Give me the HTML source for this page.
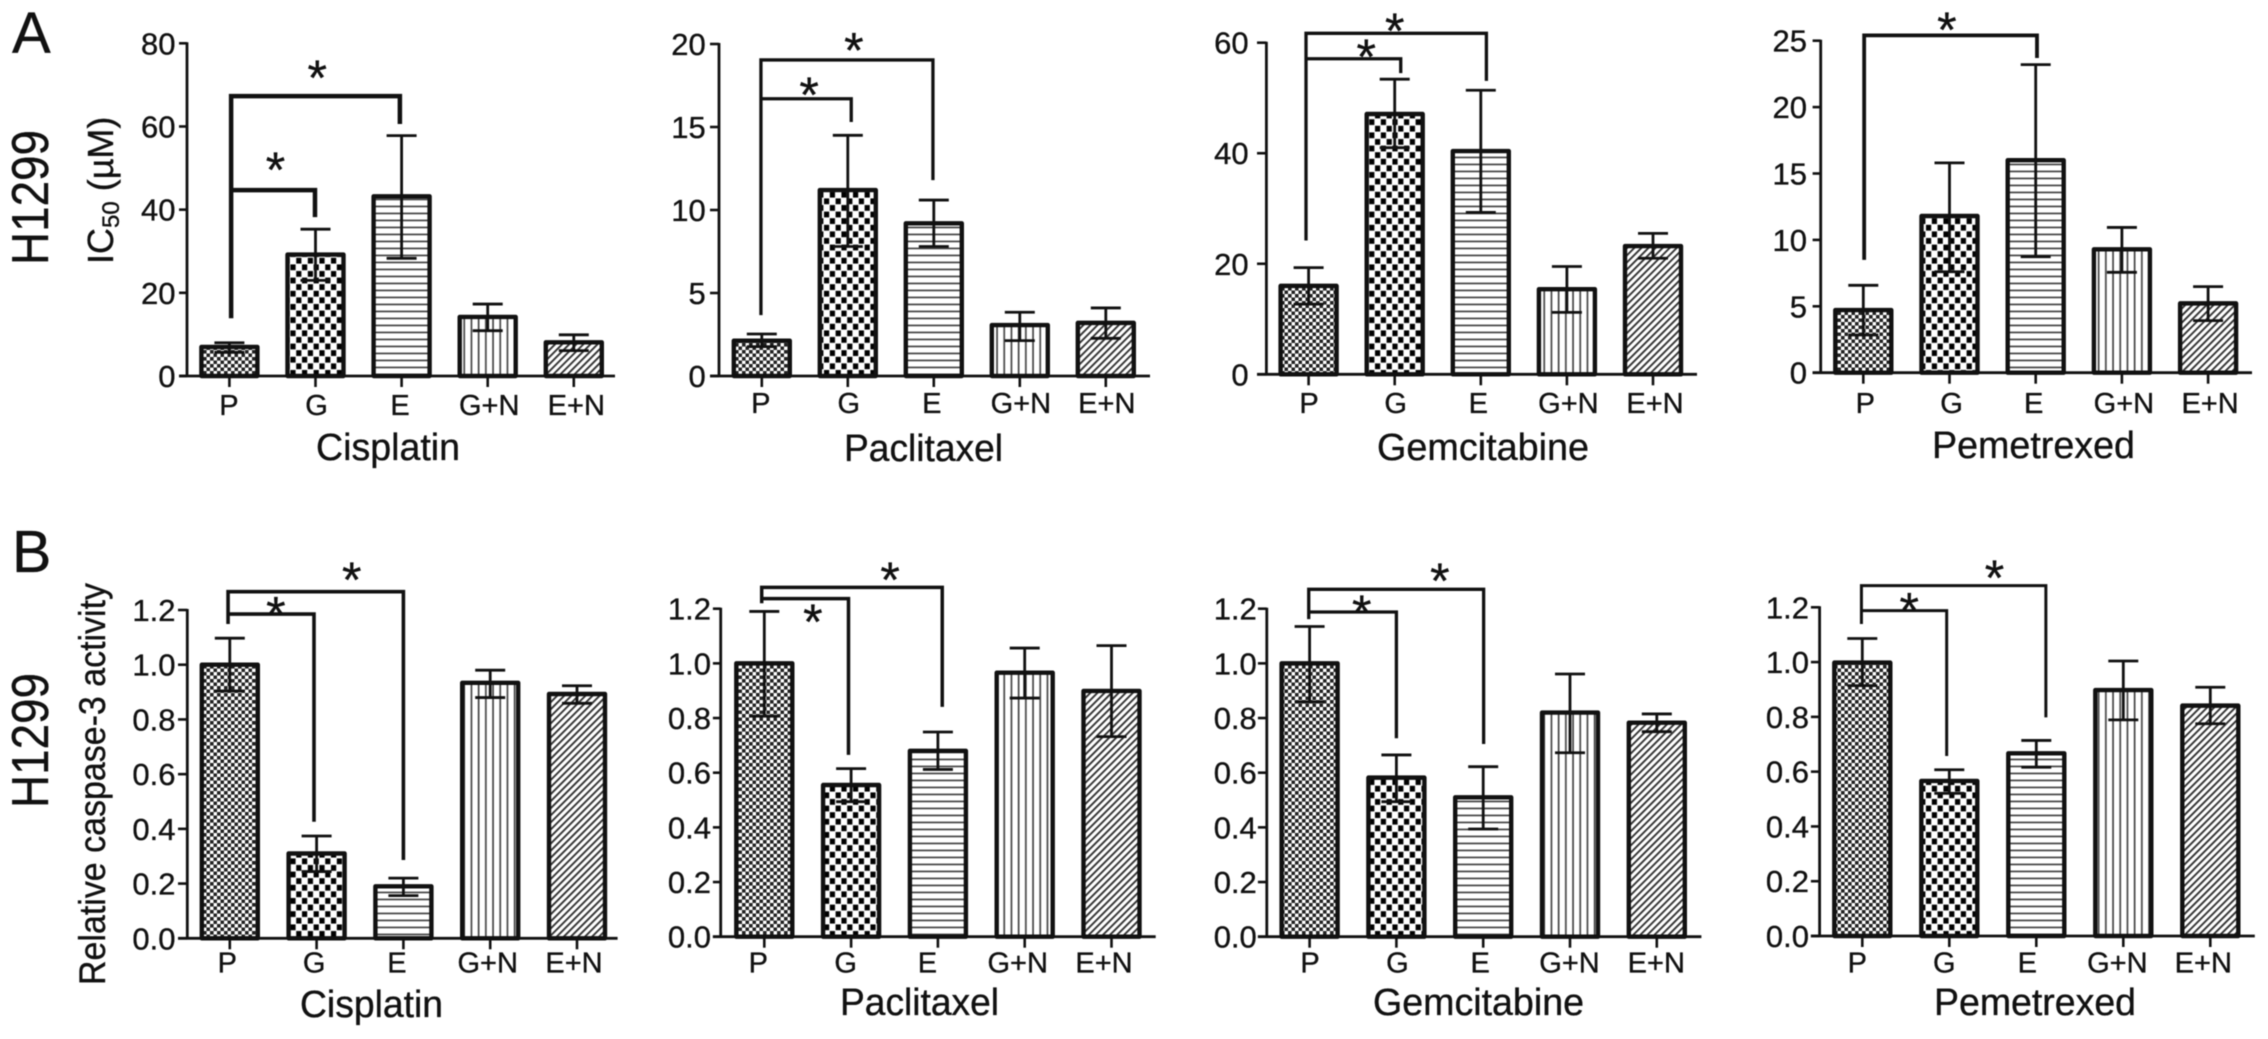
<!DOCTYPE html>
<html lang="en">
<head>
<meta charset="utf-8">
<title>H1299 IC50 and caspase-3 activity</title>
<style>
html,body{margin:0;padding:0;background:#fff;}
svg{display:block;filter:blur(0.45px);}
text{font-family:"Liberation Sans",sans-serif;fill:#111;stroke:#111;stroke-width:0.35px;}
</style>
</head>
<body>
<svg id="figure" xmlns="http://www.w3.org/2000/svg" width="2268" height="1039" viewBox="0 0 2268 1039">
  <defs>
    <pattern id="hatch-p" patternUnits="userSpaceOnUse" width="7" height="7">
      <rect width="7" height="7" fill="#fff"/>
      <rect x="0" y="0" width="3.6" height="3.6" fill="#222"/>
      <rect x="3.5" y="3.5" width="3.6" height="3.6" fill="#222"/>
    </pattern>
    <pattern id="hatch-g" patternUnits="userSpaceOnUse" width="11.6" height="13.2">
      <rect width="11.6" height="13.2" fill="#fff"/>
      <rect x="0.4" y="0.4" width="5.2" height="5.8" fill="#000"/>
      <rect x="6.2" y="7" width="5.2" height="5.8" fill="#000"/>
    </pattern>
    <pattern id="hatch-e" patternUnits="userSpaceOnUse" width="7" height="7">
      <rect width="7" height="7" fill="#fff"/>
      <rect x="0" y="2.6" width="7" height="1.7" fill="#444"/>
    </pattern>
    <pattern id="hatch-gn" patternUnits="userSpaceOnUse" width="7.2" height="7">
      <rect width="7.2" height="7" fill="#fff"/>
      <rect x="2.6" y="0" width="1.7" height="7" fill="#444"/>
    </pattern>
    <pattern id="hatch-en" patternUnits="userSpaceOnUse" width="5" height="5" patternTransform="rotate(45)">
      <rect width="5" height="5" fill="#fff"/>
      <rect x="0" y="0" width="1.9" height="5" fill="#333"/>
    </pattern>
  </defs>

  <text x="12" y="53" font-size="58">A</text>
  <text x="12" y="572" font-size="59">B</text>
  <text transform="translate(48,265) rotate(-90)" font-size="52" textLength="135" lengthAdjust="spacingAndGlyphs">H1299</text>
  <text transform="translate(48,808) rotate(-90)" font-size="52" textLength="135" lengthAdjust="spacingAndGlyphs">H1299</text>
  <text transform="translate(113,264) rotate(-90)" font-size="36">IC<tspan font-size="24" dy="6">50</tspan><tspan dy="-6"> (µM)</tspan></text>
  <text transform="translate(105,985) rotate(-90)" font-size="37" textLength="402" lengthAdjust="spacingAndGlyphs">Relative caspase-3 activity</text>

  <text x="316" y="460" font-size="38" textLength="144" lengthAdjust="spacingAndGlyphs">Cisplatin</text>
  <text x="844" y="461" font-size="38" textLength="159" lengthAdjust="spacingAndGlyphs">Paclitaxel</text>
  <text x="1377" y="460" font-size="38" textLength="212" lengthAdjust="spacingAndGlyphs">Gemcitabine</text>
  <text x="1932" y="458" font-size="38" textLength="203" lengthAdjust="spacingAndGlyphs">Pemetrexed</text>
  <text x="300" y="1017" font-size="38" textLength="143" lengthAdjust="spacingAndGlyphs">Cisplatin</text>
  <text x="840" y="1015" font-size="38" textLength="159" lengthAdjust="spacingAndGlyphs">Paclitaxel</text>
  <text x="1373" y="1015" font-size="38" textLength="211" lengthAdjust="spacingAndGlyphs">Gemcitabine</text>
  <text x="1934" y="1015" font-size="38" textLength="202" lengthAdjust="spacingAndGlyphs">Pemetrexed</text>
</svg>
<script>
const categories = ['P', 'G', 'E', 'G+N', 'E+N'];
const drugNames = ['cisplatin', 'paclitaxel', 'gemcitabine', 'pemetrexed'];
const fillIds = ['hatch-p', 'hatch-g', 'hatch-e', 'hatch-gn', 'hatch-en'];

const ticksCisplatinA = [0, 20, 40, 60, 80];
const ticksPaclitaxelA = [0, 5, 10, 15, 20];
const ticksGemcitabineA = [0, 20, 40, 60];
const ticksPemetrexedA = [0, 5, 10, 15, 20, 25];
const ticksCaspase = ['0.0', '0.2', '0.4', '0.6', '0.8', '1.0', '1.2'];

const meanCisplatinA = [7, 29.2, 43.2, 14.2, 8.1];
const upperCisplatinA = [8, 35.3, 57.8, 17.3, 9.9];
const lowerCisplatinA = [5.7, 23, 28.3, 10.9, 6.1];
const meanPaclitaxelA = [2.13, 11.2, 9.2, 3.07, 3.2];
const upperPaclitaxelA = [2.53, 14.5, 10.6, 3.84, 4.1];
const lowerPaclitaxelA = [1.77, 7.8, 7.8, 2.13, 2.27];
const meanGemcitabineA = [16, 47.1, 40.4, 15.4, 23.2];
const upperGemcitabineA = [19.3, 53.4, 51.4, 19.5, 25.5];
const lowerGemcitabineA = [12.7, 41, 29.3, 11.2, 21];
const meanPemetrexedA = [4.72, 11.8, 16, 9.29, 5.22];
const upperPemetrexedA = [6.58, 15.8, 23.2, 10.94, 6.48];
const lowerPemetrexedA = [2.84, 7.6, 8.73, 7.56, 3.92];

const meanCisplatinB = [1.0, 0.31, 0.19, 0.934, 0.893];
const upperCisplatinB = [1.097, 0.374, 0.22, 0.98, 0.923];
const lowerCisplatinB = [0.904, 0.244, 0.156, 0.88, 0.859];
const meanPaclitaxelB = [1.0, 0.555, 0.68, 0.966, 0.899];
const upperPaclitaxelB = [1.19, 0.615, 0.749, 1.056, 1.065];
const lowerPaclitaxelB = [0.807, 0.494, 0.612, 0.873, 0.732];
const meanGemcitabineB = [1.0, 0.582, 0.51, 0.82, 0.783];
const upperGemcitabineB = [1.135, 0.665, 0.622, 0.961, 0.815];
const lowerGemcitabineB = [0.859, 0.494, 0.394, 0.673, 0.75];
const meanPemetrexedB = [0.998, 0.566, 0.667, 0.898, 0.841];
const upperPemetrexedB = [1.086, 0.607, 0.714, 1.004, 0.908];
const lowerPemetrexedB = [0.914, 0.521, 0.616, 0.789, 0.775];

/* significance brackets: [from category, to category, bar height, left leg end, right leg end] */
const sigCisplatinA = [[0.02, 1.98, 67.3, 13.9, 60.6], [0.02, 0.994, 44.7, 44.7, 38.2]];
const sigPaclitaxelA = [[-0.01, 1.99, 19.04, 3.67, 11.8], [-0.01, 1.04, 16.7, 16.7, 15.3]];
const sigGemcitabineA = [[-0.03, 2.065, 61.7, 24.2, 53.1], [-0.03, 1.07, 57.1, 57.1, 54.5]];
const sigPemetrexedA = [[0.01, 2.015, 25.4, 8.5, 23.7]];
const sigCisplatinB = [[-0.02, 2.0, 1.267, 1.149, 0.286], [-0.02, 0.97, 1.185, 1.185, 0.426]];
const sigPaclitaxelB = [[-0.03, 2.05, 1.278, 1.22, 0.841], [-0.03, 0.97, 1.237, 1.237, 0.665]];
const sigGemcitabineB = [[-0.01, 2.005, 1.271, 1.162, 0.705], [-0.01, 1.0, 1.188, 1.188, 0.726]];
const sigPemetrexedB = [[-0.01, 2.11, 1.279, 1.139, 0.798], [-0.01, 0.97, 1.188, 1.188, 0.657]];

/* asterisks: [category position, value height] */
const starsCisplatinA = [[1.02, 73.6], [0.535, 51.4]];
const starsPaclitaxelA = [[1.07, 20.1], [0.55, 17.4]];
const starsGemcitabineA = [[1.0, 63.6], [0.67, 58.9]];
const starsPemetrexedA = [[0.97, 26.4]];
const starsCisplatinB = [[1.405, 1.339], [0.53, 1.212]];
const starsPaclitaxelB = [[1.45, 1.335], [0.56, 1.18]];
const starsGemcitabineB = [[1.5, 1.331], [0.6, 1.214]];
const starsPemetrexedB = [[1.52, 1.336], [0.54, 1.217]];

const panels = [
  {id:'a-cisplatin', ticks:ticksCisplatinA, mean:meanCisplatinA, upper:upperCisplatinA, lower:lowerCisplatinA, sig:sigCisplatinA, stars:starsCisplatinA, ymax:80, axisX:187, base:376, top:43.3, c0:229.4, step:86.1, left:179, right:615, lw:[-0.5,1,-1.5,1.5,2.5], labY:415, tickR:175.5, brW:4.5},
  {id:'a-paclitaxel', ticks:ticksPaclitaxelA, mean:meanPaclitaxelA, upper:upperPaclitaxelA, lower:lowerPaclitaxelA, sig:sigPaclitaxelA, stars:starsPaclitaxelA, ymax:20, axisX:719, base:376, top:44, c0:761.8, step:86, left:710, right:1150, lw:[-1,1,-2,1,1], labY:413, tickR:705.7, brW:3.3},
  {id:'a-gemcitabine', ticks:ticksGemcitabineA, mean:meanGemcitabineA, upper:upperGemcitabineA, lower:lowerGemcitabineA, sig:sigGemcitabineA, stars:starsGemcitabineA, ymax:60, axisX:1266.4, base:374.3, top:42.7, c0:1308.6, step:86.1, left:1257, right:1697, lw:[0.5,1,-2.5,1.5,2], labY:413, tickR:1248.6, brW:3.3},
  {id:'a-pemetrexed', ticks:ticksPemetrexedA, mean:meanPemetrexedA, upper:upperPemetrexedA, lower:lowerPemetrexedA, sig:sigPemetrexedA, stars:starsPemetrexedA, ymax:25, axisX:1820.7, base:372.7, top:40.7, c0:1863.3, step:86.2, left:1812.6, right:2252, lw:[2,2,-2,2,2], labY:413, tickR:1807, brW:3.8},
  {id:'b-cisplatin', ticks:ticksCaspase, mean:meanCisplatinB, upper:upperCisplatinB, lower:lowerCisplatinB, sig:sigCisplatinB, stars:starsCisplatinB, ymax:1.2, axisX:187.3, base:938.3, top:610, c0:229.8, step:86.8, left:178, right:617.6, lw:[-2.5,-2.5,-6.5,-2.5,-3], labY:972.7, tickR:175.5, brW:3.6},
  {id:'b-paclitaxel', ticks:ticksCaspase, mean:meanPaclitaxelB, upper:upperPaclitaxelB, lower:lowerPaclitaxelB, sig:sigPaclitaxelB, stars:starsPaclitaxelB, ymax:1.2, axisX:720.7, base:936.7, top:608.7, c0:764.3, step:86.8, left:712.9, right:1155.7, lw:[-6,-5.5,-10.5,-7,-7.5], labY:972.7, tickR:711, brW:3.5},
  {id:'b-gemcitabine', ticks:ticksCaspase, mean:meanGemcitabineB, upper:upperGemcitabineB, lower:lowerGemcitabineB, sig:sigGemcitabineB, stars:starsGemcitabineB, ymax:1.2, axisX:1266.8, base:936.7, top:608.7, c0:1309.6, step:86.8, left:1257.9, right:1701.4, lw:[0.5,1,-3,-0.5,-0.5], labY:972.7, tickR:1256.8, brW:3.3},
  {id:'b-pemetrexed', ticks:ticksCaspase, mean:meanPemetrexedB, upper:upperPemetrexedB, lower:lowerPemetrexedB, sig:sigPemetrexedB, stars:starsPemetrexedB, ymax:1.2, axisX:1819.6, base:936, top:607.3, c0:1862.3, step:87, left:1810.9, right:2254.8, lw:[-5,-5,-9,-6,-7], labY:972.7, tickR:1809, brW:3}
];

const svgNS = 'http://www.w3.org/2000/svg';
const figure = document.getElementById('figure');

function make(parent, tag, attrs) {
  const el = document.createElementNS(svgNS, tag);
  for (const k in attrs) el.setAttribute(k, attrs[k]);
  parent.appendChild(el);
  return el;
}

panels.forEach(function (p) {
  const xPos = function (c) { return p.c0 + c * p.step; };
  const yPos = function (v) { return p.base - (v / p.ymax) * (p.base - p.top); };

  const g = make(figure, 'g', {});
  
  

  p.mean.forEach(function (v, i) {
    const bar = make(g, 'rect', {x: xPos(i) - 28, y: yPos(v), width: 56, height: p.base - yPos(v), fill: 'url(#' + fillIds[i] + ')', stroke: '#111', 'stroke-width': 4.4, 'stroke-linejoin': 'round'});
    
    

    const d = 'M' + (xPos(i) - 15) + ' ' + yPos(p.upper[i]) + 'H' + (xPos(i) + 15) +
              'M' + xPos(i) + ' ' + yPos(p.upper[i]) + 'V' + yPos(p.lower[i]) +
              'M' + (xPos(i) - 15) + ' ' + yPos(p.lower[i]) + 'H' + (xPos(i) + 15);
    const err = make(g, 'path', {d: d, fill: 'none', stroke: '#111', 'stroke-width': 2.8});
    
    

    const tick = make(g, 'line', {x1: xPos(i), x2: xPos(i), y1: p.base, y2: p.base + 11, stroke: '#111', 'stroke-width': 2.6});
    
    

    const lab = make(g, 'text', {x: xPos(i) + p.lw[i], y: p.labY, 'font-size': 29, 'text-anchor': 'middle'});
    lab.textContent = categories[i];
    
    
  });

  const yAxis = make(g, 'line', {x1: p.axisX, x2: p.axisX, y1: p.top - 1, y2: p.base, stroke: '#111', 'stroke-width': 2.8});
  
  

  const xAxis = make(g, 'line', {x1: p.left, x2: p.right, y1: p.base, y2: p.base, stroke: '#111', 'stroke-width': 2.8});
  
  

  p.ticks.forEach(function (t) {
    const yt = yPos(parseFloat(t));
    const mark = make(g, 'line', {x1: p.left, x2: p.axisX, y1: yt, y2: yt, stroke: '#111', 'stroke-width': 2.6});
    
    

    const lab = make(g, 'text', {x: p.tickR, y: yt + 11, 'font-size': 31, 'text-anchor': 'end'});
    lab.textContent = t;
    
    
  });

  p.sig.forEach(function (b) {
    const d = 'M' + xPos(b[0]) + ' ' + yPos(b[3]) + 'V' + yPos(b[2]) + 'H' + xPos(b[1]) + 'V' + yPos(b[4]);
    const br = make(g, 'path', {d: d, fill: 'none', stroke: '#111', 'stroke-width': p.brW, 'stroke-linejoin': 'miter'});
    
    
  });

  p.stars.forEach(function (s) {
    const st = make(g, 'text', {x: xPos(s[0]), y: yPos(s[1]) + 25, 'font-size': 50, 'text-anchor': 'middle'});
    st.textContent = '*';
    
    
  });
});
</script>
</body>
</html>
